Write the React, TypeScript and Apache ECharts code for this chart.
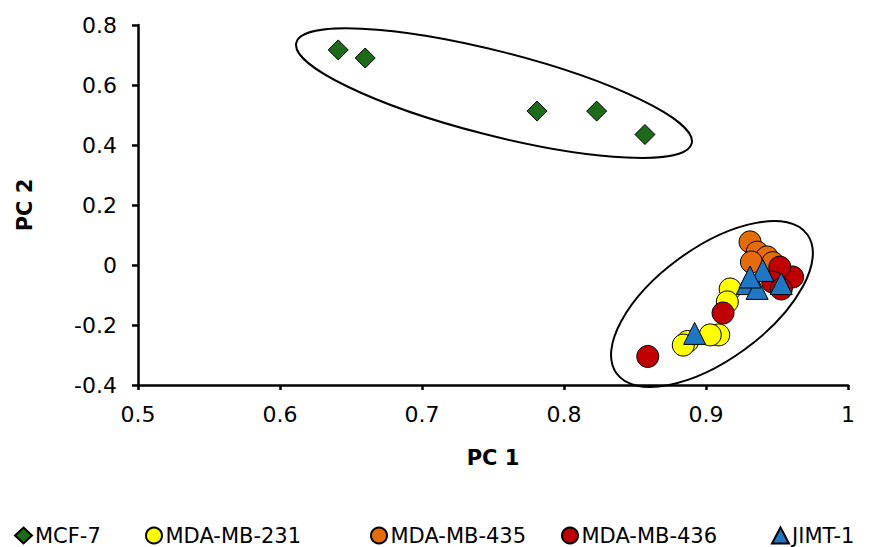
import React, { useEffect, useRef } from "react";
import * as echarts from "echarts";

const mcf7: number[][] = [[0.641, 0.717], [0.660, 0.690], [0.781, 0.513], [0.823, 0.513], [0.857, 0.435]];
const mda231: number[][] = [[0.917, -0.080], [0.915, -0.123], [0.909, -0.233], [0.903, -0.233], [0.887, -0.255], [0.884, -0.267]];
const mda435: number[][] = [[0.931, 0.077], [0.936, 0.043], [0.943, 0.027], [0.932, 0.010], [0.947, 0.008]];
const mda436: number[][] = [[0.961, -0.040], [0.952, -0.007], [0.947, -0.057], [0.953, -0.080], [0.912, -0.160], [0.859, -0.305]];
const jimt1: number[][] = [[0.892, -0.228], [0.929, -0.062], [0.936, -0.078], [0.940, -0.018], [0.931, -0.040], [0.953, -0.062]];

const seriesNames = ["MCF-7", "MDA-MB-231", "MDA-MB-435", "MDA-MB-436", "JIMT-1"];
const yTicks = [-0.4, -0.2, 0, 0.2, 0.4, 0.6, 0.8];
const xTicks = [0.5, 0.6, 0.7, 0.8, 0.9, 1];

// ellipse annotations: centre in data units, semi-axes in px, rotation
const ellipses = [
  { cx: 0.7507, cy: 0.573, rx: 204, ry: 42, rot: -0.25 },
  { cx: 0.9042, cy: -0.13, rx: 118, ry: 56, rot: 0.63 },
];

const legendLefts = [14, 145, 370, 561, 771];

const FONT = "DejaVu Sans";

export default function App() {
  const ref = useRef<HTMLDivElement>(null);
  useEffect(() => {
    document.body.style.margin = "0";
    const chart = echarts.init(ref.current!, undefined, { renderer: "svg" });
    const border = { borderColor: "#000", borderWidth: 1, opacity: 1 };
    const fmt = (ticks: number[]) => (v: number) => {
      const t = ticks.find((k) => Math.abs(k - v) < 1e-9);
      return t === undefined ? "" : String(t);
    };
    chart.setOption({
      animation: false,
      backgroundColor: "#fff",
      textStyle: { fontFamily: FONT },
      grid: { left: 138, top: 25, width: 710, height: 360 },
      legend: seriesNames.map((n, i) => ({
        top: 525,
        left: legendLefts[i],
        itemGap: 0,
        itemWidth: 17,
        itemHeight: 16,
        padding: 0,
        textStyle: { fontFamily: FONT, fontSize: 21, color: "#000", padding: [0, 0, 0, -2] },
        data: [n],
      })),
      xAxis: {
        type: "value",
        min: 0.5,
        max: 1,
        interval: 0.1,
        name: "PC 1",
        nameLocation: "middle",
        nameGap: 62,
        nameTextStyle: { fontFamily: FONT, fontWeight: "bold", fontSize: 21, color: "#000" },
        axisLine: { show: true, onZero: false, lineStyle: { color: "#000", width: 2.5 } },
        axisTick: { show: true, length: 5, lineStyle: { color: "#000", width: 2.5 } },
        axisLabel: { fontFamily: FONT, fontSize: 22, color: "#000", margin: 18, formatter: fmt(xTicks) },
        splitLine: { show: false },
      },
      yAxis: {
        type: "value",
        min: -0.4,
        max: 0.8,
        interval: 0.2,
        name: "PC 2",
        nameLocation: "middle",
        nameGap: 103,
        nameTextStyle: { fontFamily: FONT, fontWeight: "bold", fontSize: 21, color: "#000" },
        axisLine: { show: true, onZero: false, lineStyle: { color: "#000", width: 2.5 } },
        axisTick: { show: true, length: 6, lineStyle: { color: "#000", width: 2.5 } },
        axisLabel: { fontFamily: FONT, fontSize: 22, color: "#000", margin: 21, formatter: fmt(yTicks) },
        splitLine: { show: false },
      },
      series: [
        { name: seriesNames[0], type: "scatter", data: mcf7, symbol: "diamond", symbolSize: 20, z: 2, itemStyle: { color: "#1d6a1a", ...border } },
        { name: seriesNames[1], type: "scatter", data: mda231, symbol: "circle", symbolSize: 22, z: 3, itemStyle: { color: "#ffff00", ...border } },
        { name: seriesNames[2], type: "scatter", data: mda435, symbol: "circle", symbolSize: 22, z: 4, itemStyle: { color: "#e46c0a", ...border } },
        { name: seriesNames[3], type: "scatter", data: mda436, symbol: "circle", symbolSize: 22, z: 5, itemStyle: { color: "#c00000", ...border } },
        { name: seriesNames[4], type: "scatter", data: jimt1, symbol: "triangle", symbolSize: 22, z: 6, itemStyle: { color: "#1f77c4", ...border } },
      ],
    });
    const els = ellipses.map((e) => {
      const p = chart.convertToPixel({ gridIndex: 0 }, [e.cx, e.cy]) as number[];
      return {
        type: "ellipse",
        x: p[0],
        y: p[1],
        rotation: e.rot,
        shape: { cx: 0, cy: 0, rx: e.rx, ry: e.ry },
        style: { fill: "none", stroke: "#000", lineWidth: 2 },
        z: 10,
        silent: true,
      };
    });
    chart.setOption({ graphic: els });
    return () => chart.dispose();
  }, []);
  return <div ref={ref} style={{ width: 877, height: 547 }} />;
}
